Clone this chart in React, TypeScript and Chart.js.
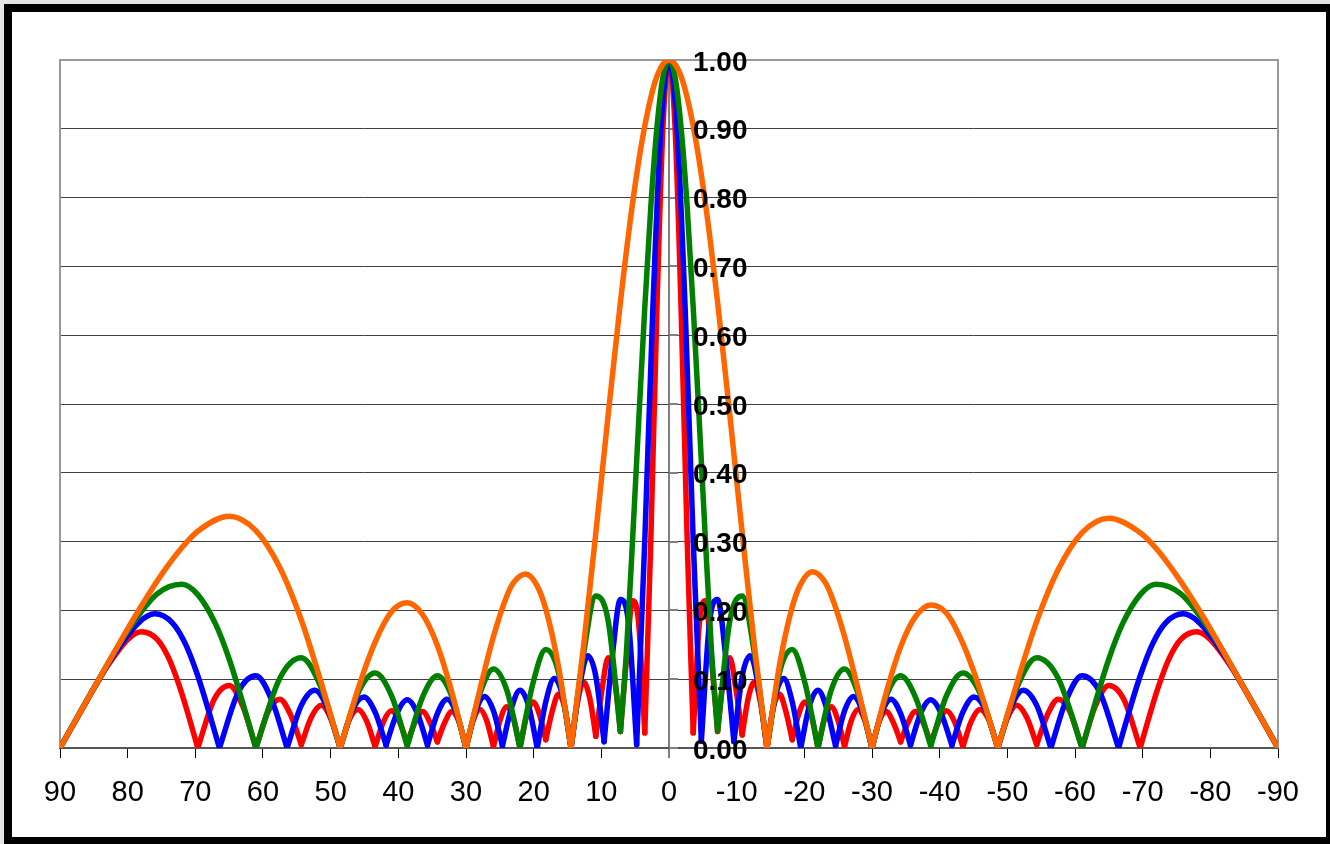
import React, { useEffect, useRef } from 'react';
import { Chart, registerables } from 'chart.js';

Chart.register(...registerables);

// Angle (degrees) and normalized amplitude, left half (90 -> 0)
const redLeft: [number, number][] = [
  [90, 0], [86, 0.069], [83, 0.119], [79.86, 0.159], [78, 0.169], [75.64, 0.158], [74, 0.132], [72.39, 0.091], [71, 0.047], [69.64, 0],
  [67.21, 0.071], [64.99, 0.091], [62.96, 0.06], [61.05, 0],
  [59.24, 0.053], [57.53, 0.071], [55.91, 0.048], [54.34, 0.005],
  [52.84, 0.045], [51.38, 0.062], [49.96, 0.042], [48.59, 0],
  [47.26, 0.041], [45.95, 0.056], [44.68, 0.039], [43.43, 0.002],
  [42.21, 0.038], [41.01, 0.054], [39.84, 0.038], [38.68, 0.007],
  [37.55, 0.037], [36.42, 0.053], [35.32, 0.037], [34.23, 0.009],
  [33.15, 0.037], [32.09, 0.053], [31.04, 0.038], [30, 0],
  [28.97, 0.039], [27.95, 0.056], [26.95, 0.04], [25.94, 0.002],
  [24.95, 0.041], [23.97, 0.06], [22.99, 0.043], [22.02, 0],
  [21.06, 0.046], [20.11, 0.067], [19.15, 0.049], [18.21, 0.012],
  [17.27, 0.053], [16.34, 0.078], [15.4, 0.058], [14.48, 0],
  [13.56, 0.064], [12.64, 0.096], [11.72, 0.073], [10.81, 0.017],
  [9.9, 0.085], [8.99, 0.131], [8.08, 0.102], [7.18, 0.024],
  [6.28, 0.13], [5.38, 0.214], [4.48, 0.181], [3.58, 0.022],
  [2.69, 0.301], [1.79, 0.637], [0.9, 0.901], [0, 1],
];
const redRight: [number, number][] = [
  [0, 1], [-0.9, 0.901], [-1.79, 0.637], [-2.69, 0.301], [-3.58, 0.022],
  [-4.48, 0.181], [-5.38, 0.214], [-6.28, 0.13], [-7.18, 0.024],
  [-8.08, 0.102], [-8.99, 0.131], [-9.9, 0.085], [-10.81, 0.019],
  [-11.72, 0.073], [-12.64, 0.096], [-13.56, 0.064], [-14.48, 0],
  [-15.4, 0.058], [-16.34, 0.078], [-17.27, 0.053], [-18.21, 0.012],
  [-19.15, 0.049], [-20.11, 0.067], [-21.06, 0.046], [-22.02, 0],
  [-22.99, 0.043], [-23.97, 0.06], [-24.95, 0.041], [-25.94, 0.002],
  [-26.95, 0.04], [-27.95, 0.056], [-28.97, 0.039], [-30, 0],
  [-31.04, 0.038], [-32.09, 0.053], [-33.15, 0.037], [-34.23, 0.009],
  [-35.32, 0.037], [-36.42, 0.053], [-37.55, 0.037], [-38.68, 0.007],
  [-39.84, 0.038], [-41.01, 0.054], [-42.21, 0.038], [-43.43, 0.002],
  [-44.68, 0.039], [-45.95, 0.056], [-47.26, 0.041], [-48.59, 0],
  [-49.96, 0.042], [-51.38, 0.062], [-52.84, 0.045], [-54.34, 0.005],
  [-55.91, 0.048], [-57.53, 0.071], [-59.24, 0.053], [-61.05, 0],
  [-62.96, 0.06], [-64.99, 0.091], [-67.21, 0.071], [-69.64, 0],
  [-71, 0.047], [-72.39, 0.091], [-74, 0.132], [-75.64, 0.158], [-78, 0.169], [-79.86, 0.159], [-83, 0.119], [-86, 0.069], [-90, 0],
];

const blueLeft: [number, number][] = [
  [90, 0], [85, 0.087], [82, 0.136], [78.28, 0.183], [76, 0.195], [73.4, 0.182], [71.5, 0.152], [69.64, 0.105], [68, 0.053], [66.44, 0],
  [63.61, 0.082], [61.05, 0.105], [58.68, 0.069], [56.44, 0],
  [54.34, 0.062], [52.34, 0.084], [50.43, 0.057], [48.59, 0],
  [46.82, 0.054], [45.1, 0.074], [43.43, 0.052], [41.81, 0.004],
  [40.23, 0.05], [38.68, 0.07], [37.17, 0.05], [35.69, 0.004],
  [34.23, 0.05], [32.8, 0.071], [31.39, 0.05], [30, 0],
  [28.63, 0.052], [27.28, 0.075], [25.94, 0.054], [24.62, 0.003],
  [23.32, 0.057], [22.02, 0.084], [20.74, 0.061], [19.47, 0],
  [18.21, 0.067], [16.96, 0.101], [15.71, 0.075], [14.48, 0],
  [13.25, 0.087], [12.02, 0.134], [10.81, 0.104], [9.59, 0.009],
  [8.39, 0.132], [7.18, 0.216], [5.98, 0.182], [4.78, 0.005],
  [3.58, 0.301], [2.39, 0.638], [1.19, 0.901], [0, 1],
];
const blueRight: [number, number][] = [
  [0, 1], [-1.19, 0.901], [-2.39, 0.638], [-3.58, 0.301], [-4.78, 0.01],
  [-5.98, 0.182], [-7.18, 0.216], [-8.39, 0.132], [-9.59, 0.009],
  [-10.81, 0.104], [-12.02, 0.134], [-13.25, 0.087], [-14.48, 0],
  [-15.71, 0.075], [-16.96, 0.101], [-18.21, 0.067], [-19.47, 0],
  [-20.74, 0.061], [-22.02, 0.084], [-23.32, 0.057], [-24.62, 0.003],
  [-25.94, 0.054], [-27.28, 0.075], [-28.63, 0.052], [-30, 0],
  [-31.39, 0.05], [-32.8, 0.071], [-34.23, 0.05], [-35.69, 0.004],
  [-37.17, 0.05], [-38.68, 0.07], [-40.23, 0.05], [-41.81, 0.004],
  [-43.43, 0.052], [-45.1, 0.074], [-46.82, 0.054], [-48.59, 0],
  [-50.43, 0.057], [-52.34, 0.084], [-54.34, 0.062], [-56.44, 0],
  [-58.68, 0.069], [-61.05, 0.105], [-63.61, 0.082], [-66.44, 0],
  [-68, 0.053], [-69.64, 0.105], [-71.5, 0.152], [-73.4, 0.182], [-76, 0.195], [-78.28, 0.183], [-82, 0.136], [-85, 0.087], [-90, 0],
];

const greenLeft: [number, number][] = [
  [90, 0], [85, 0.087], [80, 0.17], [75.64, 0.224], [72, 0.238], [69.64, 0.223], [67, 0.18], [64.99, 0.129], [63, 0.066], [61.05, 0],
  [57.53, 0.101], [54.34, 0.131], [51.38, 0.087], [48.59, 0],
  [45.95, 0.08], [43.43, 0.109], [41.01, 0.076], [38.68, 0.003],
  [36.42, 0.074], [34.23, 0.105], [32.09, 0.075], [30, 0],
  [27.95, 0.079], [25.94, 0.115], [23.97, 0.084], [22.02, 0],
  [20.11, 0.094], [18.21, 0.143], [16.34, 0.11], [14.48, 0],
  [12.64, 0.136], [10.81, 0.221], [8.99, 0.185], [7.18, 0.024],
  [6.28, 0.141], [5.38, 0.303], [4.48, 0.474], [3.58, 0.64], [2.69, 0.786], [1.79, 0.901], [0.9, 0.975], [0, 1],
];
const greenRight: [number, number][] = [
  [0, 1], [-0.9, 0.975], [-1.79, 0.901], [-2.69, 0.786], [-3.58, 0.64], [-4.48, 0.474], [-5.38, 0.303], [-6.28, 0.141], [-7.18, 0.025],
  [-8.99, 0.185], [-10.81, 0.221], [-12.64, 0.136], [-14.48, 0],
  [-16.34, 0.11], [-18.21, 0.143], [-20.11, 0.094], [-22.02, 0],
  [-23.97, 0.084], [-25.94, 0.115], [-27.95, 0.079], [-30, 0],
  [-32.09, 0.075], [-34.23, 0.105], [-36.42, 0.074], [-38.68, 0.003],
  [-41.01, 0.076], [-43.43, 0.109], [-45.95, 0.08], [-48.59, 0],
  [-51.38, 0.087], [-54.34, 0.131], [-57.53, 0.101], [-61.05, 0],
  [-63, 0.066], [-64.99, 0.129], [-67, 0.18], [-69.64, 0.223], [-72, 0.238], [-75.64, 0.224], [-80, 0.17], [-85, 0.087], [-90, 0],
];

const orangeLeft: [number, number][] = [
  [90, 0], [86, 0.07], [82, 0.139], [78.5, 0.198], [75, 0.252], [72, 0.291], [69.64, 0.315], [65, 0.337], [61.05, 0.316], [57.5, 0.262], [54.34, 0.186], [51.5, 0.098], [48.59, 0],
  [45.95, 0.086], [43.43, 0.154], [41.01, 0.198], [38.68, 0.211], [36.42, 0.194], [34.23, 0.149], [32.09, 0.081], [30, 0],
  [27.95, 0.085], [25.94, 0.162], [23.97, 0.221], [23, 0.24], [21.2, 0.253], [19.5, 0.236], [18.21, 0.202], [16.34, 0.119], [14.48, 0],
  [12.64, 0.147], [10.81, 0.313], [8.99, 0.484], [7.18, 0.648], [5.38, 0.792], [3.58, 0.904], [1.79, 0.976], [0, 1],
];
const orangeRight: [number, number][] = [
  [0, 1], [-1.79, 0.976], [-3.58, 0.904], [-5.38, 0.792], [-7.18, 0.648], [-8.99, 0.484], [-10.81, 0.313], [-12.64, 0.147], [-14.48, 0],
  [-16.34, 0.121], [-18.21, 0.205], [-19.5, 0.239], [-21.2, 0.256], [-23, 0.242], [-23.97, 0.222], [-25.94, 0.162], [-27.95, 0.085], [-30, 0],
  [-32.09, 0.08], [-34.23, 0.147], [-36.42, 0.191], [-38.68, 0.208], [-41.01, 0.196], [-43.43, 0.152], [-45.95, 0.085], [-48.59, 0],
  [-51.5, 0.097], [-54.34, 0.184], [-57.5, 0.259], [-61.05, 0.313], [-65, 0.334], [-69.64, 0.313], [-72, 0.29], [-75, 0.251], [-78.5, 0.198], [-82, 0.139], [-86, 0.07], [-90, 0],
];

const seriesColors = ['#FF0000', '#0000FF', '#008000', '#FF6600'];
const seriesNames = ['red', 'blue', 'green', 'orange'];

const xTickStep = 10;
const yTickStep = 0.1;
const FONT = '"Liberation Sans", Arial, Helvetica, sans-serif';

// split a series at its nulls so every lobe is a separate smooth arch with a sharp null
function splitLobes(pts: [number, number][]) {
  const segs: [number, number][][] = [];
  let cur: [number, number][] = [];
  pts.forEach((p, i) => {
    cur.push(p);
    const prev = pts[i - 1];
    const next = pts[i + 1];
    if (prev && next && p[1] < prev[1] && p[1] < next[1]) {
      segs.push(cur);
      cur = [p];
    }
  });
  if (cur.length > 1) segs.push(cur);
  return segs;
}

const overlayPlugin = {
  id: 'overlay',
  beforeDatasetsDraw(chart: any) {
    const { ctx, chartArea: a, scales } = chart;
    const x0 = scales.x.getPixelForValue(0);
    ctx.save();
    ctx.strokeStyle = '#808080';
    ctx.lineWidth = 2;
    scales.y.ticks.forEach((t: any) => {
      const y = Math.round(scales.y.getPixelForValue(t.value));
      ctx.beginPath();
      ctx.moveTo(x0, y);
      ctx.lineTo(x0 + 9, y);
      ctx.stroke();
    });
    ctx.strokeStyle = '#999999';
    ctx.lineWidth = 2;
    ctx.beginPath();
    ctx.moveTo(a.left, a.bottom);
    ctx.lineTo(a.left, a.top);
    ctx.lineTo(a.right, a.top);
    ctx.lineTo(a.right, a.bottom);
    ctx.stroke();
    ctx.restore();
  },
  afterDatasetsDraw(chart: any) {
    const { ctx, scales } = chart;
    const x0 = scales.x.getPixelForValue(0);
    ctx.save();
    ctx.fillStyle = '#000';
    ctx.font = `bold 28px ${FONT}`;
    ctx.textAlign = 'left';
    ctx.textBaseline = 'alphabetic';
    scales.y.ticks.forEach((t: any) => {
      const y = scales.y.getPixelForValue(t.value);
      ctx.fillText(Number(t.value).toFixed(2), x0 + 24, y + 10.5);
    });
    ctx.restore();
  },
};

export default function App() {
  const ref = useRef<HTMLCanvasElement>(null);

  useEffect(() => {
    if (!ref.current) return;
    const all = [
      [...redLeft, ...redRight.slice(1)],
      [...blueLeft, ...blueRight.slice(1)],
      [...greenLeft, ...greenRight.slice(1)],
      [...orangeLeft, ...orangeRight.slice(1)],
    ];
    const datasets: any[] = [];
    all.forEach((pts, si) => {
      splitLobes(pts).forEach((seg, j) => {
        datasets.push({
          label: `${seriesNames[si]}-${j}`,
          data: seg.map(([x, y]) => ({ x, y })),
          borderColor: seriesColors[si],
          backgroundColor: seriesColors[si],
          borderWidth: 5.5,
          pointRadius: 0,
          fill: false,
          cubicInterpolationMode: 'monotone',
          borderCapStyle: 'round',
          borderJoinStyle: 'round',
          order: 3 - si,
        });
      });
    });

    const chart = new Chart(ref.current, {
      type: 'line',
      data: { datasets },
      options: {
        animation: false,
        responsive: false,
        devicePixelRatio: 1,
        events: [],
        layout: { padding: { left: 60, top: 60, right: 52, bottom: 0 } },
        plugins: { legend: { display: false }, tooltip: { enabled: false } },
        scales: {
          x: {
            type: 'linear',
            min: -90,
            max: 90,
            reverse: true,
            afterFit: (s: any) => { s.height = 96; },
            ticks: {
              stepSize: xTickStep,
              autoSkip: false,
              maxRotation: 0,
              color: '#000',
              padding: 18,
              font: { family: FONT, size: 29 },
              callback: (v: any) => String(v),
            },
            grid: {
              color: (c: any) => (c.tick && c.tick.value === 0 ? '#808080' : 'rgba(0,0,0,0)'),
              lineWidth: (c: any) => (c.tick && c.tick.value === 0 ? 2 : 1),
              tickColor: '#000',
              tickWidth: 1,
              tickLength: 10,
            },
            border: { display: true, color: '#555555', width: 2 },
          },
          y: {
            type: 'linear',
            min: 0,
            max: 1,
            afterFit: (s: any) => { s.width = 0; },
            ticks: { stepSize: yTickStep, display: false },
            grid: { color: '#404040', lineWidth: 1, drawTicks: false },
            border: { display: false },
          },
        },
      },
      plugins: [overlayPlugin],
    });
    return () => chart.destroy();
  }, []);

  return (
    <div style={{ position: 'fixed', left: 0, top: 0, width: 1330, height: 844, background: '#e6e6e6', overflow: 'hidden' }}>
      <div
        style={{
          position: 'absolute', left: 4, top: 4, width: 1330, height: 841,
          boxSizing: 'border-box', border: '8px solid #000', background: '#fff',
        }}
      />
      <canvas
        ref={ref}
        width={1330}
        height={844}
        style={{ position: 'absolute', left: 0, top: 0, width: 1330, height: 844 }}
      />
    </div>
  );
}
